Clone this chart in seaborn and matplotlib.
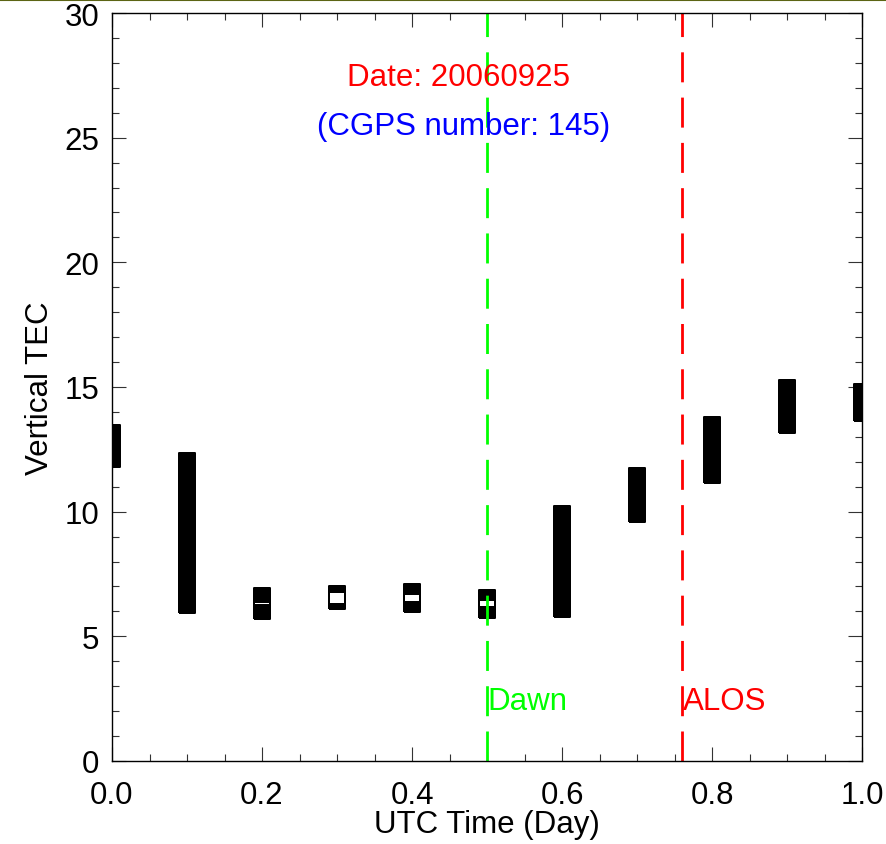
import numpy as np
import pandas as pd
import seaborn as sns
import matplotlib.pyplot as plt
from matplotlib.lines import Line2D
from matplotlib.ticker import MultipleLocator, FormatStrFormatter

# vertical TEC of every CGPS station, one list per UTC time (day fraction)
times = [0.0, 0.1, 0.2, 0.3, 0.4, 0.5, 0.6, 0.7, 0.8, 0.9, 1.0]

tec_00 = [12.13, 12.19, 12.27, 12.33, 12.40, 12.46, 12.54, 12.61, 12.66, 12.74,
          12.80, 12.86, 12.94, 13.00, 13.05, 13.11]
tec_01 = [6.27, 6.31, 6.36, 6.42, 6.49, 6.55, 6.60, 6.68, 6.74, 6.79, 6.86, 6.93,
          6.99, 7.06, 7.12, 7.20, 7.26, 7.33, 7.38, 7.46, 7.52, 7.59, 7.66, 7.71,
          7.79, 7.85, 7.92, 7.98, 8.06, 8.12, 8.19, 8.25, 8.33, 8.39, 8.45, 8.53,
          8.59, 8.66, 8.72, 8.80, 8.86, 8.93, 8.99, 9.07, 9.13, 9.20, 9.26, 9.33,
          9.40, 9.46, 9.54, 9.60, 9.67, 9.73, 9.81, 9.87, 9.94, 10.00, 10.07, 10.14,
          10.20, 10.28, 10.34, 10.41, 10.47, 10.54, 10.61, 10.67, 10.75, 10.81,
          10.88, 10.94, 11.02, 11.08, 11.15, 11.21, 11.29, 11.35, 11.42, 11.48,
          11.56, 11.62, 11.69, 11.75, 11.83, 11.89, 11.95, 12.02]
tec_02 = [6.04, 6.11, 6.17, 6.25, 6.31, 6.38, 6.46, 6.53, 6.60]
tec_03 = [6.44, 6.50, 6.55, 6.61, 6.66]
tec_04 = [6.34, 6.40, 6.47, 6.54, 6.60, 6.67, 6.73]
tec_05 = [6.10, 6.17, 6.23, 6.31, 6.38, 6.45, 6.52]
tec_06 = [6.14, 6.19, 6.26, 6.32, 6.39, 6.45, 6.53, 6.59, 6.66, 6.72, 6.80, 6.86,
          6.93, 6.99, 7.07, 7.13, 7.20, 7.26, 7.34, 7.40, 7.47, 7.53, 7.61, 7.67,
          7.74, 7.80, 7.88, 7.94, 8.01, 8.07, 8.15, 8.21, 8.28, 8.34, 8.42, 8.48,
          8.55, 8.61, 8.69, 8.75, 8.82, 8.88, 8.96, 9.02, 9.09, 9.15, 9.23, 9.29,
          9.36, 9.42, 9.50, 9.56, 9.63, 9.69, 9.75, 9.80, 9.86]
tec_07 = [9.95, 10.01, 10.08, 10.15, 10.21, 10.29, 10.35, 10.42, 10.48, 10.56,
          10.62, 10.69, 10.75, 10.83, 10.89, 10.96, 11.02, 11.10, 11.16, 11.23,
          11.29, 11.36, 11.41]
tec_08 = [11.49, 11.55, 11.62, 11.68, 11.76, 11.82, 11.89, 11.95, 12.03, 12.09,
          12.16, 12.22, 12.30, 12.36, 12.43, 12.49, 12.57, 12.63, 12.70, 12.76,
          12.84, 12.90, 12.97, 13.03, 13.11, 13.17, 13.24, 13.30, 13.37, 13.43]
tec_09 = [13.52, 13.58, 13.65, 13.71, 13.79, 13.85, 13.92, 13.98, 14.06, 14.12,
          14.19, 14.25, 14.33, 14.39, 14.46, 14.52, 14.60, 14.66, 14.73, 14.79,
          14.87, 14.94]
tec_10 = [13.98, 14.04, 14.11, 14.17, 14.25, 14.31, 14.38, 14.44, 14.52, 14.58,
          14.65, 14.71, 14.78]

columns = [tec_00, tec_01, tec_02, tec_03, tec_04, tec_05,
           tec_06, tec_07, tec_08, tec_09, tec_10]

date_text = 'Date: 20060925'
station_text = '(CGPS number: 145)'
dawn_time = 0.5
alos_time = 0.76

data = pd.DataFrame({
    'time': [t for t, col in zip(times, columns) for _ in col],
    'tec': [v for col in columns for v in col],
})

sns.set_style('ticks')
plt.rcParams['font.family'] = ['Liberation Sans', 'DejaVu Sans']
plt.rcParams['text.color'] = 'black'
plt.rcParams['axes.labelcolor'] = 'black'
fs = 22.5

fig = plt.figure(figsize=(8.87, 8.45), dpi=100)
ax = fig.add_axes([112 / 887, 83 / 845, 750 / 887, 748 / 845])

# open rectangles, like the IDL symbols
box = [(-0.457, -0.5), (0.457, -0.5), (0.457, 0.5), (-0.457, 0.5), (-0.457, -0.5)]
sns.scatterplot(data=data, x='time', y='tec', marker=box, s=159,
                facecolor='none', edgecolor='black', linewidth=1.44, ax=ax)

for t, c in [(dawn_time, '#00ff00'), (alos_time, '#ff0000')]:
    ax.plot([t, t], [0, 30], color=c, lw=2.0, dashes=(10.8, 5.5))

ax.text(0.462, 27.45, date_text, color='#ff0000', fontsize=fs, ha='center', va='center')
ax.text(0.469, 25.45, station_text, color='#0000ff', fontsize=fs, ha='center', va='center')
ax.text(dawn_time + 0.001, 2.4, 'Dawn', color='#00ff00', fontsize=fs, ha='left', va='center')
ax.text(alos_time + 0.001, 2.4, 'ALOS', color='#ff0000', fontsize=fs, ha='left', va='center')

ax.set_xlim(0, 1)
ax.set_ylim(0, 30)
ax.xaxis.set_major_locator(MultipleLocator(0.2))
ax.xaxis.set_minor_locator(MultipleLocator(0.05))
ax.yaxis.set_major_locator(MultipleLocator(5))
ax.yaxis.set_minor_locator(MultipleLocator(1))
ax.xaxis.set_major_formatter(FormatStrFormatter('%.1f'))
ax.tick_params(which='both', direction='in', top=True, right=True, width=0.8,
               color='#333333', labelcolor='black', labelsize=fs)
ax.tick_params(which='major', length=10)
ax.tick_params(which='minor', length=5)
ax.tick_params(axis='x', pad=14)
ax.tick_params(axis='y', pad=9)
for s in ax.spines.values():
    s.set_linewidth(1.0)
    s.set_color('black')

ax.set_xlabel('UTC Time (Day)', fontsize=fs, labelpad=-1)
ax.set_ylabel('Vertical TEC', fontsize=fs, labelpad=7)

fig.canvas.draw()
ylabels = ax.get_yticklabels()
ylabels[0].set_verticalalignment('bottom')
ylabels[-1].set_verticalalignment('top')

fig.add_artist(Line2D([0, 1], [0.9985, 0.9985], transform=fig.transFigure,
                      color='#5c6414', lw=1.5))

fig.savefig('out.png', dpi=100)
